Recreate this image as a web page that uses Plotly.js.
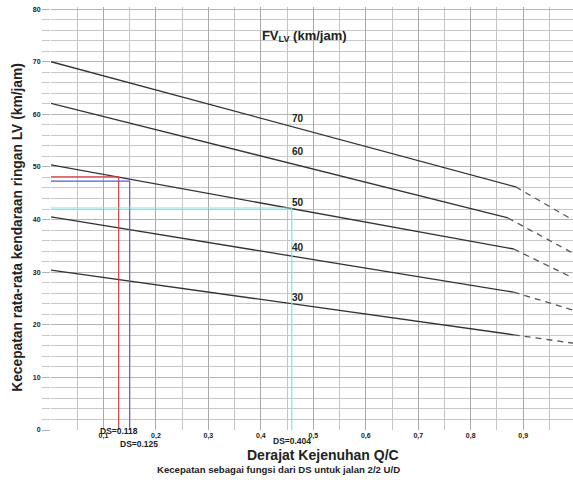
<!DOCTYPE html>
<html>
<head>
<meta charset="utf-8">
<script src="https://cdn.plot.ly/plotly-3.0.1.min.js"></script>
<style>html,body{margin:0;padding:0;background:#fff;}</style>
</head>
<body>
<div id="chart" style="width:573px;height:480px;"></div>
<script>
// FV_LV curves (km/jam)
const speeds = [70, 60, 50, 40, 30];
const startY = [70.0, 62.1, 50.4, 40.5, 30.4];
const solidEndX = [0.886, 0.871, 0.882, 0.882, 0.882];
const solidEndY = [46.2, 40.3, 34.4, 26.2, 18.1];
const dashEndX = [0.995, 0.995, 0.995, 0.995, 0.995];
const dashEndY = [39.9, 33.6, 28.9, 22.8, 16.5];
const curveLabelX = [0.47, 0.47, 0.47, 0.47, 0.47];
const curveLabelY = [59.3, 52.9, 43.3, 34.6, 25.1];

// DS reading lines
const dsLabels = ['DS=0.118', 'DS=0.125', 'DS=0.404'];
const dsX = [0.129, 0.150, 0.459];
const dsY = [48.1, 47.3, 42.2];
const dsColors = ['#d04040', '#5a5ad6', '#7fe3e3'];

// tick labels
const xTickVals = [0.1,0.2,0.3,0.4,0.5,0.6,0.7,0.8,0.9];
const xTickText = ['0,1','0,2','0,3','0,4','0,5','0,6','0,7','0,8','0,9'];
const yTickVals = [0,10,20,30,40,50,60,70,80];
const yTickText = ['0','10','20','30','40','50','60','70','80'];

const traces = [];
for (let i = 0; i < speeds.length; i++) {
  traces.push({x:[0, solidEndX[i]], y:[startY[i], solidEndY[i]], mode:'lines',
    line:{color:'#333', width:1.3}, hoverinfo:'skip', showlegend:false});
  traces.push({x:[solidEndX[i], dashEndX[i]], y:[solidEndY[i], dashEndY[i]], mode:'lines',
    line:{color:'#555', width:1.3, dash:'6px,5px'}, hoverinfo:'skip', showlegend:false});
}
for (let i = 0; i < dsX.length; i++) {
  traces.push({x:[0, dsX[i], dsX[i]], y:[dsY[i], dsY[i], 0], mode:'lines',
    line:{color:dsColors[i], width:1.2}, hoverinfo:'skip', showlegend:false});
}

const bold = {family:'Liberation Sans, Arial, sans-serif', weight:'bold', color:'#222'};
const annotations = [];
for (let i = 0; i < speeds.length; i++) {
  annotations.push({x:curveLabelX[i], y:curveLabelY[i], xref:'x', yref:'y', text:String(speeds[i]),
    showarrow:false, font:Object.assign({size:10}, bold), xanchor:'center', yanchor:'middle'});
}
const dsLabelPy = [-0.002, -0.033, -0.026];
const dsLabelXs = [0.130, 0.168, 0.459];
for (let i = 0; i < dsLabels.length; i++) {
  annotations.push({x:dsLabelXs[i], y:dsLabelPy[i], xref:'x', yref:'paper', text:dsLabels[i],
    showarrow:false, font:Object.assign({size:8.5}, bold), xanchor:'center', yanchor:'middle'});
}
// x-axis title
annotations.push({x:0.522, y:-0.058, xref:'paper', yref:'paper',
  text:'Derajat Kejenuhan Q/C', showarrow:false,
  font:Object.assign({size:14}, bold), xanchor:'center', yanchor:'middle'});
// y-axis title (18px from the left edge)
annotations.push({x:(18 - 51) / 522, y:0.478, xref:'paper', yref:'paper', textangle:-90,
  text:'Kecepatan rata-rata kendaraan ringan LV (km/jam)', showarrow:false,
  font:Object.assign({size:13.8}, bold), xanchor:'center', yanchor:'middle'});
// caption
annotations.push({x:0.435, y:-0.093, xref:'paper', yref:'paper',
  text:'Kecepatan sebagai fungsi dari DS untuk jalan 2/2 U/D', showarrow:false,
  font:Object.assign({size:9.6}, bold), xanchor:'center', yanchor:'middle'});

const layout = {
  width:573, height:480,
  margin:{l:51, r:0, t:7, b:50},
  paper_bgcolor:'#fff', plot_bgcolor:'#fff',
  showlegend:false,
  title:{text:'FV<sub>LV</sub> (km/jam)', x:0.531, xanchor:'center', y:0.927, yanchor:'middle',
    xref:'container', yref:'container', font:Object.assign({size:13}, bold)},
  xaxis:{range:[0, 0.995], tickmode:'array', tickvals:xTickVals, ticktext:xTickText,
    showgrid:true, gridcolor:'#aaa', gridwidth:1, zeroline:false, showline:false,
    ticks:'', tickfont:Object.assign({size:7}, bold),
    minor:{tickmode:'linear', tick0:0, dtick:0.05, showgrid:true, gridcolor:'#c4c4c4', gridwidth:1},
    automargin:false, fixedrange:true},
  yaxis:{range:[0, 80.4], tickmode:'array', tickvals:yTickVals, ticktext:yTickText,
    showgrid:true, gridcolor:'#b4b4b4', gridwidth:1, zeroline:false, showline:false,
    ticks:'outside', ticklen:8, tickcolor:'#b4b4b4', tickwidth:1,
    tickfont:Object.assign({size:7}, bold),
    minor:{tickmode:'linear', tick0:0, dtick:2, showgrid:true, gridcolor:'#c8c8c8', gridwidth:1,
      ticks:'outside', ticklen:8, tickcolor:'#c8c8c8'},
    automargin:false, fixedrange:true},
  annotations: annotations
};

Plotly.newPlot('chart', traces, layout, {staticPlot:true, displayModeBar:false});
</script>
</body>
</html>
